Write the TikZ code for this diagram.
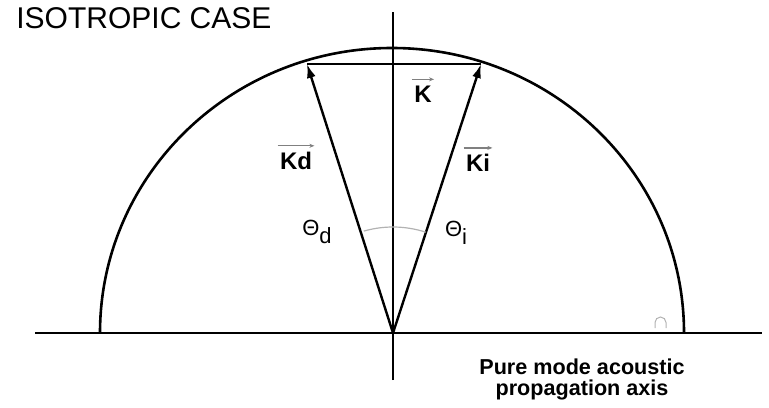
\documentclass[tikz,border=0pt]{standalone}
\usepackage{fontspec}
\setmainfont{Liberation Sans}
\usepackage{tikz}
\usetikzlibrary{arrows.meta,calc}

\begin{document}
\begin{tikzpicture}[x=0.5pt,y=0.5pt,
    axisline/.style={line width=1pt, black},
    kvec/.style={line width=1.2pt, -{Latex[length=7pt,width=4.5pt]}},
    klabel/.style={font=\fontsize{12}{14}\selectfont\bfseries, inner sep=1pt},
    overarrow/.style={gray, line width=0.6pt, -{Stealth[length=2.5pt,width=2pt]}},
    thlabel/.style={font=\fontsize{11}{13}\selectfont, inner sep=0pt}]
      \useasboundingbox (0,0) rectangle (769,407);

      % Title
      \node[anchor=base west, font=\fontsize{15}{17}\selectfont, inner sep=0pt] (title) at (16,378) {ISOTROPIC CASE};

      % Axes
      \coordinate (O) at (393,74);
      \coordinate (axL) at (35,74);
      \coordinate (axR) at (762,74);
      \coordinate (axT) at (393,395);
      \coordinate (axB) at (393,27);
      \draw[axisline] (axL) -- (axR);
      \draw[axisline] (axB) -- (axT);

      % Wave vector surface (half circle)
      \draw[line width=1.3pt] (100,74) arc[start angle=180, end angle=0, x radius=292, y radius=285];

      % Wave vectors
      \coordinate (Kdtip) at (307,343);
      \coordinate (Kitip) at (481,343);
      \draw[kvec] (O) -- (Kdtip);
      \draw[kvec] (O) -- (Kitip);
      \draw[line width=1.2pt] (Kdtip) -- (Kitip);

      % Angle arc
      \draw[gray!60, line width=0.6pt] ($(O)+(72:106)$) arc[start angle=72, end angle=106, radius=106];

      % Labels
      \node[klabel] (K) at (423,313) {K};
      \draw[overarrow] ([yshift=2pt]K.north west) -- ([yshift=2pt]K.north east);
      \node[klabel] (Kd) at (296,246) {Kd};
      \draw[overarrow] ([yshift=2pt]Kd.north west) -- ([yshift=2pt]Kd.north east);
      \node[klabel] (Ki) at (478,244) {Ki};
      \draw[overarrow] ([yshift=2pt]Ki.north west) -- ([yshift=2pt]Ki.north east);

      \node[thlabel] (thd) at (317,175) {Θ\raisebox{-4pt}{d}};
      \node[thlabel] (thi) at (456,174) {Θ\raisebox{-4pt}{i}};

      % Small mark near the axis
      \draw[gray!60, line width=0.5pt] (655,79) -- (655,84.5) arc[start angle=180, end angle=0, radius=5.5] -- (666,79);

      % Axis caption
      \node[align=center, font=\fontsize{10.8}{10.5}\selectfont\bfseries, inner sep=0pt] (caption) at (582,28) {Pure mode acoustic\\propagation axis};
\end{tikzpicture}
\end{document}
